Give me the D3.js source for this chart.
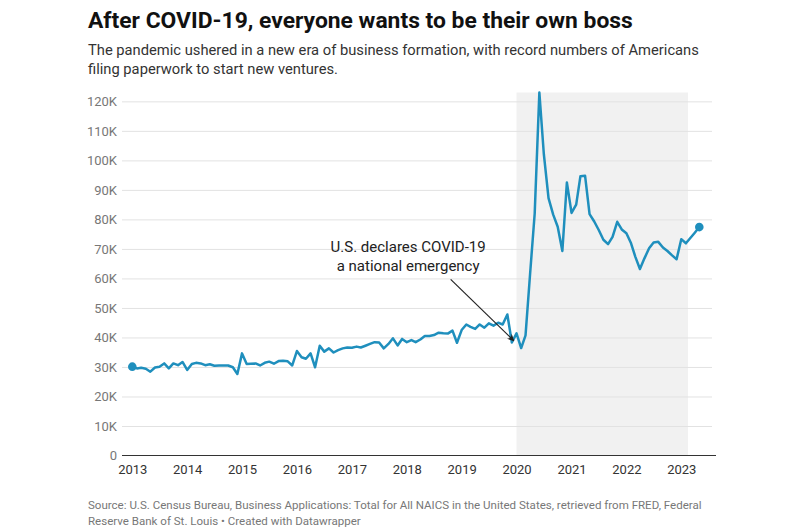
<!DOCTYPE html>
<html><head><meta charset="utf-8">
<script src="https://cdn.jsdelivr.net/npm/d3@7"></script>
<style>
body{margin:0;background:#fff;}
svg{display:block;font-family:Roboto,"Noto Sans",sans-serif;}
</style>
</head><body>
<svg id="c" width="800" height="530"></svg>
<script>
// ---- DATA (thousands of business applications, monthly, starting Jan of each year) ----
const years = [2013, 2014, 2015, 2016, 2017, 2018, 2019, 2020, 2021, 2022, 2023];
const v2013 = [30.1, 29.5, 29.7, 29.4, 28.4, 29.8, 30.1, 31.2, 29.5, 31.2, 30.6, 31.7];
const v2014 = [29.0, 31.0, 31.4, 31.2, 30.6, 30.9, 30.4, 30.5, 30.5, 30.5, 29.9, 27.6];
const v2015 = [34.6, 31.0, 31.1, 31.2, 30.5, 31.4, 31.8, 31.1, 32.0, 32.1, 31.9, 30.5];
const v2016 = [35.4, 33.3, 32.8, 34.6, 29.9, 37.2, 35.2, 36.3, 34.9, 35.7, 36.3, 36.6];
const v2017 = [36.5, 36.9, 36.6, 37.2, 37.8, 38.4, 38.3, 36.3, 37.8, 39.7, 37.3, 39.5];
const v2018 = [38.4, 39.1, 38.4, 39.3, 40.5, 40.5, 40.8, 41.6, 41.4, 41.3, 42.3, 38.2];
const v2019 = [42.5, 44.4, 43.6, 42.9, 44.4, 43.3, 44.8, 44.0, 45.0, 44.4, 47.8, 38.3];
const v2020 = [41.4, 36.4, 40.7, 62.0, 82.0, 123.0, 102.0, 87.2, 81.6, 77.5, 69.3, 92.5];
const v2021 = [82.2, 85.0, 94.6, 94.8, 81.8, 79.3, 76.4, 73.1, 71.6, 74.1, 79.2, 76.6];
const v2022 = [75.3, 71.9, 67.4, 63.2, 66.8, 70.2, 72.2, 72.4, 70.5, 69.3, 67.8, 66.5];
const v2023 = [73.3, 71.9, 73.6, 75.5, 77.4];
const seriesByYear = [v2013, v2014, v2015, v2016, v2017, v2018, v2019, v2020, v2021, v2022, v2023];

const yTicks = [0, 10, 20, 30, 40, 50, 60, 70, 80, 90, 100, 110, 120];
const yTickLabels = ["0", "10K", "20K", "30K", "40K", "50K", "60K", "70K", "80K", "90K", "100K", "110K", "120K"];
const xTickLabels = ["2013", "2014", "2015", "2016", "2017", "2018", "2019", "2020", "2021", "2022", "2023"];

const shadeStart = "2020-01-01";
const shadeEnd = "2023-02-15";

const annotationLines = ["U.S. declares COVID-19", "a national emergency"];
const annotationTextAt = {date: "2018-01-10", value: 68.9};
const arrowFrom = {date: "2018-10-20", value: 59.7};
const arrowTo = {date: "2019-12-14", value: 38.9};

const titleText = "After COVID-19, everyone wants to be their own boss";
const subtitleLines = ["The pandemic ushered in a new era of business formation, with record numbers of Americans",
                       "filing paperwork to start new ventures."];
const sourceLines = ["Source: U.S. Census Bureau, Business Applications: Total for All NAICS in the United States, retrieved from FRED, Federal",
                     "Reserve Bank of St. Louis \u2022 Created with Datawrapper"];

// ---- build rows ----
const data = [];
seriesByYear.forEach((arr, yi) => {
  arr.forEach((v, m) => data.push({date: new Date(years[yi], m, 1), value: v}));
});
const parse = d3.timeParse("%Y-%m-%d");

const svg = d3.select("#c");
const W = 800, H = 530;
svg.append("rect").attr("width", W).attr("height", H).attr("fill", "#fff");

const gridX0 = 122, gridX1 = 712, baseX1 = 716;
const x = d3.scaleTime()
  .domain(d3.extent(data, d => d.date))
  .range([132.3, 699.3]);
const y = d3.scaleLinear()
  .domain([0, d3.max(data, d => d.value)])
  .range([455.5, 92.5]);

// shading
svg.append("rect")
  .attr("x", x(parse(shadeStart)))
  .attr("y", y(y.domain()[1]))
  .attr("width", x(parse(shadeEnd)) - x(parse(shadeStart)))
  .attr("height", y(0) - y(y.domain()[1]))
  .attr("fill", "#f1f1f1");

// y axis with gridlines
const yAxis = d3.axisLeft(y)
  .tickValues(yTicks.filter(t => t > 0))
  .tickFormat((d) => yTickLabels[yTicks.indexOf(d)])
  .tickSize(-(gridX1 - gridX0))
  .tickPadding(5);
const gy = svg.append("g").attr("transform", `translate(${gridX0},0)`).call(yAxis);
gy.select(".domain").remove();
gy.selectAll(".tick line").attr("stroke", "#e2e2e2").attr("stroke-width", 1);
gy.selectAll(".tick text").attr("fill", "#777").attr("font-size", 13)
  .attr("font-family", "Roboto, sans-serif");

// zero label + baseline
svg.append("text").attr("x", gridX0 - 5).attr("y", y(0)).attr("dy", "0.32em")
  .attr("text-anchor", "end").attr("fill", "#777").attr("font-size", 13).text(yTickLabels[0]);
svg.append("line").attr("x1", gridX0).attr("x2", baseX1)
  .attr("y1", y(0)).attr("y2", y(0)).attr("stroke", "#333").attr("stroke-width", 1.2);

// x axis labels
const xAxis = d3.axisBottom(x)
  .tickValues(years.map(yr => new Date(yr, 0, 1)))
  .tickFormat((d, i) => xTickLabels[i])
  .tickSize(0).tickPadding(9);
const gx = svg.append("g").attr("transform", `translate(0,${y(0)})`).call(xAxis);
gx.select(".domain").remove();
gx.selectAll(".tick text").attr("fill", "#333").attr("font-size", 13)
  .attr("font-family", "Roboto, sans-serif");

// line
const lineColor = "#1f8fbd";
svg.append("path").datum(data)
  .attr("fill", "none").attr("stroke", lineColor).attr("stroke-width", 2.5)
  .attr("stroke-linejoin", "round").attr("stroke-linecap", "round")
  .attr("d", d3.line().x(d => x(d.date)).y(d => y(d.value)));
[data[0], data[data.length - 1]].forEach(d => {
  svg.append("circle").attr("cx", x(d.date)).attr("cy", y(d.value)).attr("r", 4.3).attr("fill", lineColor);
});

// annotation
const defs = svg.append("defs");
defs.append("marker").attr("id", "ah").attr("viewBox", "0 0 10 10")
  .attr("refX", 9).attr("refY", 5).attr("markerWidth", 7).attr("markerHeight", 7)
  .attr("orient", "auto-start-reverse").attr("markerUnits", "userSpaceOnUse")
  .append("path").attr("d", "M0,0 L10,5 L0,10 L3,5 Z").attr("fill", "#222");
svg.append("line")
  .attr("x1", x(parse(arrowFrom.date))).attr("y1", y(arrowFrom.value))
  .attr("x2", x(parse(arrowTo.date))).attr("y2", y(arrowTo.value))
  .attr("stroke", "#222").attr("stroke-width", 1.2).attr("marker-end", "url(#ah)");
const at = svg.append("text").attr("text-anchor", "middle").attr("fill", "#222").attr("font-size", 15);
annotationLines.forEach((t, i) => {
  at.append("tspan").attr("x", x(parse(annotationTextAt.date)))
    .attr("y", y(annotationTextAt.value) + i * 19).text(t);
});

// fit helper
function fit(sel, target) {
  const len = sel.node().getComputedTextLength();
  const fs = parseFloat(sel.attr("font-size"));
  sel.attr("font-size", (fs * target / len).toFixed(2));
}

// title
const title = svg.append("text").attr("x", 88).attr("y", 28).attr("font-size", 22)
  .attr("font-weight", 700).attr("fill", "#111").text(titleText);
fit(title, 545);

// subtitle
const sub = subtitleLines.map((t, i) => svg.append("text").attr("x", 88).attr("y", 55 + i * 19)
  .attr("font-size", 15).attr("fill", "#333").text(t));
fit(sub[0], 611);
sub[1].attr("font-size", sub[0].attr("font-size"));

// source
const src = sourceLines.map((t, i) => svg.append("text").attr("x", 88).attr("y", 508.5 + i * 16)
  .attr("font-size", 12).attr("fill", "#777").text(t));
fit(src[0], 614);
src[1].attr("font-size", src[0].attr("font-size"));
</script>
</body></html>
